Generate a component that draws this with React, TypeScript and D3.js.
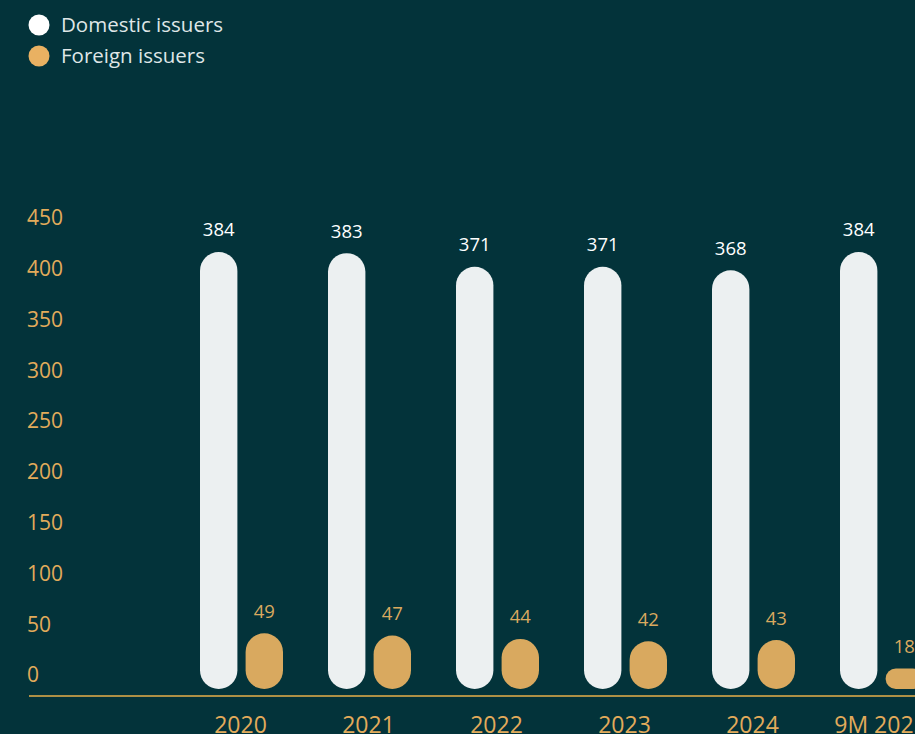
import React from "react";
import * as d3 from "d3";

const categories = ["2020", "2021", "2022", "2023", "2024", "9M 2025"];
const domestic = [384, 383, 371, 371, 368, 384];
const foreign = [49, 47, 44, 42, 43, 18];
const yTicks = [0, 50, 100, 150, 200, 250, 300, 350, 400, 450];

const W = 915;
const H = 734;
const BG = "#03333a";
const ORANGE = "#e2ab5b";
const BAR_FOREIGN = "#d9a95f";
const BAR_DOMESTIC = "#ecf0f1";
const FONT = "'Open Sans', 'Noto Sans', sans-serif";

export default function App() {
  const x = d3.scaleBand<string>().domain(categories).range([177.5, 177.5 + 128 * categories.length]).paddingInner(0).paddingOuter(0);
  const inner = d3.scaleBand<string>().domain(["d", "f"]).range([200 - 177.5, 283 - 177.5]).paddingInner(0.18);
  const yBar = d3.scaleLinear().domain([0, 384]).range([689, 252]);
  const yTick = d3.scaleLinear().domain([0, 450]).range([675, 218]);
  const bw = inner.bandwidth();

  return (
    <svg width={W} height={H} style={{ position: "absolute", left: 0, top: 0, display: "block" }}>
      <rect x={0} y={0} width={W} height={H} fill={BG} />
      {/* legend */}
      <circle cx={39} cy={25} r={10.5} fill="#ffffff" />
      <text x={61} y={25} dy="0.35em" fill="#dfe6e7" fontFamily={FONT} fontSize={20.5}>Domestic issuers</text>
      <circle cx={39} cy={56} r={10.5} fill="#e9b162" />
      <text x={61} y={56} dy="0.35em" fill="#dfe6e7" fontFamily={FONT} fontSize={20.5}>Foreign issuers</text>

      {/* y tick labels */}
      {yTicks.map((t) => (
        <text key={t} x={27} y={yTick(t)} dy="0.35em" fill={ORANGE} fontFamily={FONT} fontSize={21} fontWeight={500}>{t}</text>
      ))}

      {/* bars */}
      {categories.map((c, i) => {
        const gx = x(c)!;
        const dx = gx + inner("d")!;
        const fx = gx + inner("f")!;
        const dTop = yBar(domestic[i]);
        const fTop = yBar(foreign[i]);
        const base = yBar(0);
        const fr = Math.min(bw / 2, (base - fTop) / 2);
        return (
          <g key={c}>
            <rect x={dx} y={dTop} width={bw} height={base - dTop} rx={bw / 2} fill={BAR_DOMESTIC} />
            <rect x={fx} y={fTop} width={bw} height={base - fTop} rx={fr} ry={fr} fill={BAR_FOREIGN} />
            <text x={dx + bw / 2} y={dTop - 22} dy="0.35em" textAnchor="middle" fill="#ffffff" fontFamily={FONT} fontSize={18.5}>{domestic[i]}</text>
            <text x={fx + bw / 2} y={fTop - 22} dy="0.35em" textAnchor="middle" fill={BAR_FOREIGN} fontFamily={FONT} fontSize={18.5}>{foreign[i]}</text>
            <text x={gx + x.bandwidth() / 2 - 1} y={733} textAnchor="middle" fill={ORANGE} fontFamily={FONT} fontSize={23} fontWeight={500}>{c}</text>
          </g>
        );
      })}

      {/* axis line */}
      <line x1={29} x2={W} y1={yBar(0) + 7} y2={yBar(0) + 7} stroke="#e8b04a" strokeWidth={1.5} />
    </svg>
  );
}
